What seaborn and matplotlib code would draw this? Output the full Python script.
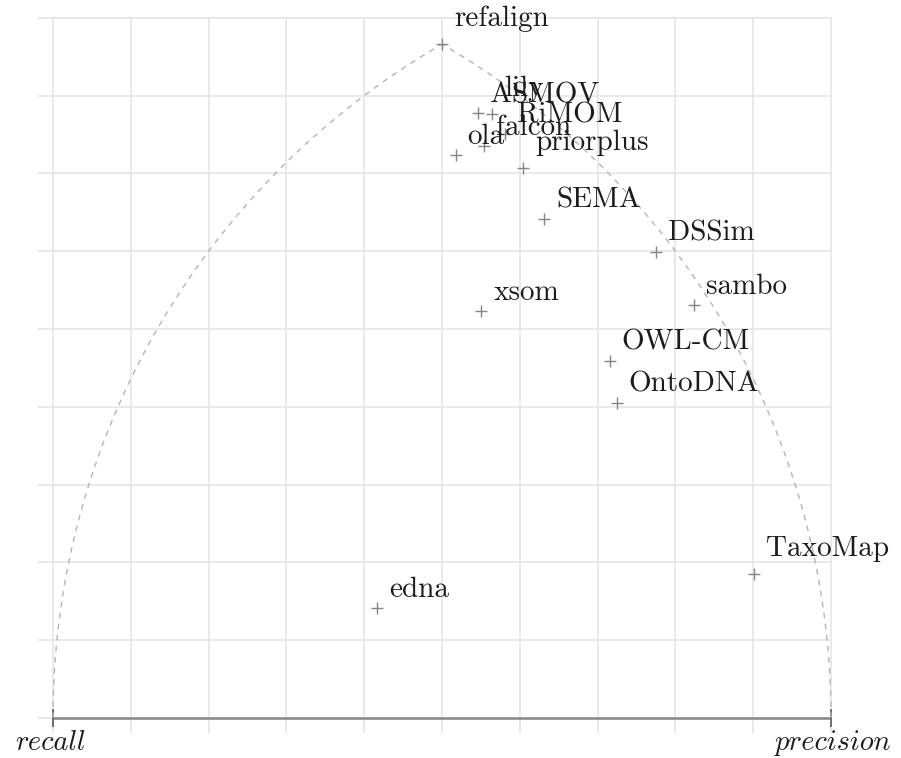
import numpy as np
import pandas as pd
import matplotlib
matplotlib.use("Agg")
import matplotlib.pyplot as plt
import seaborn as sns

# Benchmark results per matcher: precision and recall
systems = ["refalign", "ASMOV", "lily", "RiMOM", "falcon", "ola", "priorplus",
           "SEMA", "DSSim", "xsom", "sambo", "OWL-CM", "OntoDNA", "TaxoMap", "edna"]
precision = [1.00, 0.95, 0.96, 0.95, 0.92, 0.89, 0.93,
             0.90, 0.98, 0.76, 0.98, 0.85, 0.83, 0.92, 0.44]
recall = [1.00, 0.90, 0.89, 0.86, 0.86, 0.87, 0.81,
          0.74, 0.64, 0.69, 0.56, 0.54, 0.49, 0.21, 0.60]

grid_x = np.round(np.arange(0, 1.01, 0.1), 2)
grid_y = np.round(np.arange(0, 0.91, 0.1), 2)

sns.set_theme(style="white")
plt.rcParams["font.family"] = ["cmr10", "DejaVu Serif"]

df = pd.DataFrame({"system": systems, "precision": precision, "recall": recall})
# A matcher sits where the circle of radius precision around the "recall"
# corner (0,0) meets the circle of radius recall around the "precision" corner (1,0).
p2 = df["precision"] ** 2
r2 = df["recall"] ** 2
df["x"] = (p2 - r2 + 1) / 2
df["y"] = np.sqrt(np.clip(p2 - df["x"] ** 2, 0, None))

fig = plt.figure(figsize=(9.01, 7.58), dpi=100)
ax = fig.add_axes([0, 0, 1, 1])
W = 778.0
ax.set_xlim(-53 / W, 848 / W)
ax.set_ylim(-40 / W, 718 / W)
ax.set_aspect("equal")
ax.axis("off")

grid_kw = dict(color="#e7e7e7", lw=1.3, zorder=1)
ax.vlines(grid_x, -0.019, grid_y[-1], **grid_kw)
ax.hlines(grid_y, -0.019, 1.0, **grid_kw)

# base axis between the two corners
ax.plot([0, 1], [0, 0], color="#8c8c8c", lw=1.9, zorder=2, solid_capstyle="butt")
ax.vlines([0, 1], -0.011, 0.012, color="#6e6e6e", lw=1.4, zorder=2)

# dashed limits: precision = 1 and recall = 1
t = np.linspace(0, np.pi / 3, 200)
arcs = pd.concat([
    pd.DataFrame({"x": np.cos(t), "y": np.sin(t), "arc": "recall1"}),
    pd.DataFrame({"x": 1 - np.cos(t), "y": np.sin(t), "arc": "precision1"}),
])
sns.lineplot(data=arcs, x="x", y="y", units="arc", estimator=None, sort=False,
             color="#b4b4b4", lw=1.0, linestyle=(0, (4, 4)), ax=ax, zorder=3)

sns.scatterplot(data=df, x="x", y="y", marker="+", s=70, color="#858585",
                linewidth=1.0, ax=ax, zorder=4, legend=False)

for _, row in df.iterrows():
    depth = 7 if any(c in "gjpqy" for c in row["system"]) else 0
    ax.annotate(row["system"], (row["x"], row["y"]),
                xytext=(12, 11 + depth), textcoords="offset pixels",
                ha="left", va="baseline", fontsize=21, color="#1c1c1c", zorder=5)

# corner names, baseline just above the bottom edge
corner_kw = dict(family="cmmi10", fontsize=20.5, color="#1c1c1c",
                 ha="center", va="baseline")
ax.text(-0.003, -0.041, "recall", **corner_kw)
ax.text(1.003, -0.041, "precision", **corner_kw)

ax.set_xlabel("")
ax.set_ylabel("")
fig.savefig("out.png", dpi=100)
